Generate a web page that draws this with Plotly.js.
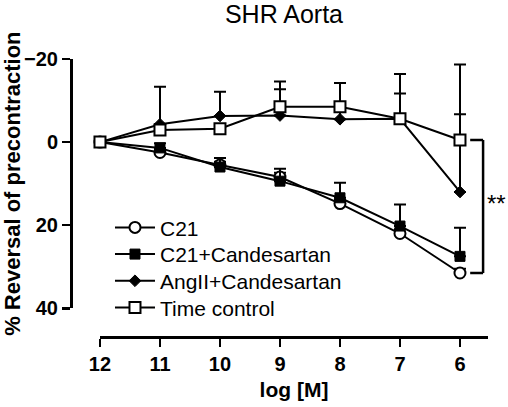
<!DOCTYPE html>
<html>
<head>
<meta charset="utf-8">
<script src="https://cdn.plot.ly/plotly-3.0.1.min.js"></script>
<style>html,body{margin:0;padding:0;background:#fff;}#chart{width:508px;height:407px;}</style>
</head>
<body>
<div id="chart"></div>
<script>
// ---- data ----
var logM = [12, 11, 10, 9, 8, 7, 6];
var xTickLabels = ['12', '11', '10', '9', '8', '7', '6'];
var yTickVals = [-20, 0, 20, 40];

var c21 = [0, 2.5, 5.5, 8.4, 14.8, 22.0, 31.5];
var c21Err = [0, 0.8, 0.8, 1.0, 1.0, 1.0, 1.0];

var c21Cand = [0, 1.4, 6.0, 9.4, 13.4, 20.2, 27.5];
var c21CandErr = [0, 1.1, 2.2, 3.0, 3.6, 5.2, 6.9];

var angCand = [0, -4.3, -6.3, -6.4, -5.5, -5.6, 12.0];
var angCandErr = [0, 9.0, 5.8, 6.3, 2.2, 6.1, 18.7];

var timeCtrl = [0, -2.9, -3.2, -8.5, -8.5, -5.6, -0.5];
var timeCtrlErr = [0, 0.8, 0.8, 6.1, 5.7, 10.8, 18.2];

var seriesNames = ['C21', 'C21+Candesartan', 'AngII+Candesartan', 'Time control'];

// ---- build ----
var FONT = 'Liberation Sans, Arial, Helvetica, sans-serif';
var legendIds = ['legend', 'legend2', 'legend3', 'legend4'];
function zeros(a){ return a.map(function(){ return 0; }); }
function mk(i, y, err, marker){
  return {
    type: 'scatter', mode: 'lines+markers', name: seriesNames[i], legend: legendIds[i],
    x: logM, y: y, cliponaxis: false, hoverinfo: 'skip',
    line: {color: '#000', width: 2},
    marker: marker,
    error_y: {type: 'data', symmetric: false, array: zeros(err), arrayminus: err,
              color: '#000', thickness: 2, width: 6}
  };
}
var traces = [
  mk(0, c21, c21Err, {symbol: 'circle', size: 11, color: '#fff', line: {color: '#000', width: 2}}),
  mk(1, c21Cand, c21CandErr, {symbol: 'square', size: 10, color: '#000', line: {color: '#000', width: 1}}),
  mk(2, angCand, angCandErr, {symbol: 'diamond', size: 9, color: '#000', line: {color: '#000', width: 1}}),
  mk(3, timeCtrl, timeCtrlErr, {symbol: 'square', size: 11, color: '#fff', line: {color: '#000', width: 2}})
];

var last = logM.length - 1;
var brTop = timeCtrl[last], brBot = c21[last];
var bx0 = 5.83, bx1 = 5.615;
var lineStyle = {color: '#000', width: 2.5};

// legend rows (paper y of each row centre)
var legendRowY = [0.393, 0.297, 0.201, 0.105];
function legendBox(i){
  return {
    x: 0.0935, y: legendRowY[i], xanchor: 'left', yanchor: 'middle', xref: 'paper', yref: 'paper',
    bgcolor: 'rgba(0,0,0,0)', borderwidth: 0, itemwidth: 40,
    font: {family: FONT, size: 21, color: '#000'}
  };
}

var layout = {
  width: 508, height: 407,
  margin: {l: 71, r: 20, t: 59, b: 70, pad: 0},
  paper_bgcolor: '#fff', plot_bgcolor: '#fff',
  font: {family: FONT, color: '#000'},
  showlegend: true,
  title: {text: 'SHR Aorta', font: {family: FONT, size: 25, color: '#000'},
          xref: 'container', x: 0.559, xanchor: 'center', yref: 'container', y: 0.9865, yanchor: 'top'},
  xaxis: {
    domain: [0.0695, 1], anchor: 'free', position: 0,
    range: [12, 5.533], tickmode: 'array', tickvals: logM, ticktext: xTickLabels,
    showline: true, linewidth: 2.5, linecolor: '#000', mirror: false,
    ticks: 'outside', ticklen: 8, tickwidth: 2.5, tickcolor: '#000',
    showgrid: false, zeroline: false,
    tickfont: {family: FONT, size: 20, weight: 700, color: '#000'},
    title: {text: 'log [M]', font: {family: FONT, size: 21, weight: 700, color: '#000'}, standoff: 8}
  },
  yaxis: {
    domain: [0.1032, 1], anchor: 'free', position: 0,
    range: [40, -20], tickmode: 'array', tickvals: yTickVals,
    showline: true, linewidth: 2.5, linecolor: '#000',
    ticks: 'outside', ticklen: 8, tickwidth: 2.5, tickcolor: '#000',
    showgrid: false, zeroline: false,
    tickfont: {family: FONT, size: 20, weight: 700, color: '#000'},
    title: {text: '% Reversal of precontraction', font: {family: FONT, size: 22, weight: 700, color: '#000'}, standoff: 8}
  },
  legend: legendBox(0),
  legend2: legendBox(1),
  legend3: legendBox(2),
  legend4: legendBox(3),
  shapes: [
    {type: 'line', xref: 'x', yref: 'y', x0: bx0, x1: bx1, y0: brTop, y1: brTop, line: lineStyle},
    {type: 'line', xref: 'x', yref: 'y', x0: bx1, x1: bx1, y0: brTop, y1: brBot, line: lineStyle},
    {type: 'line', xref: 'x', yref: 'y', x0: bx0, x1: bx1, y0: brBot, y1: brBot, line: lineStyle}
  ],
  annotations: [
    {xref: 'x', yref: 'y', x: bx1, y: (brTop + brBot) / 2, text: '**', showarrow: false,
     xanchor: 'left', yanchor: 'middle', xshift: 2, yshift: 3, font: {family: FONT, size: 24, color: '#000'}}
  ]
};

Plotly.newPlot('chart', traces, layout, {staticPlot: true, displayModeBar: false});
</script>
</body>
</html>
